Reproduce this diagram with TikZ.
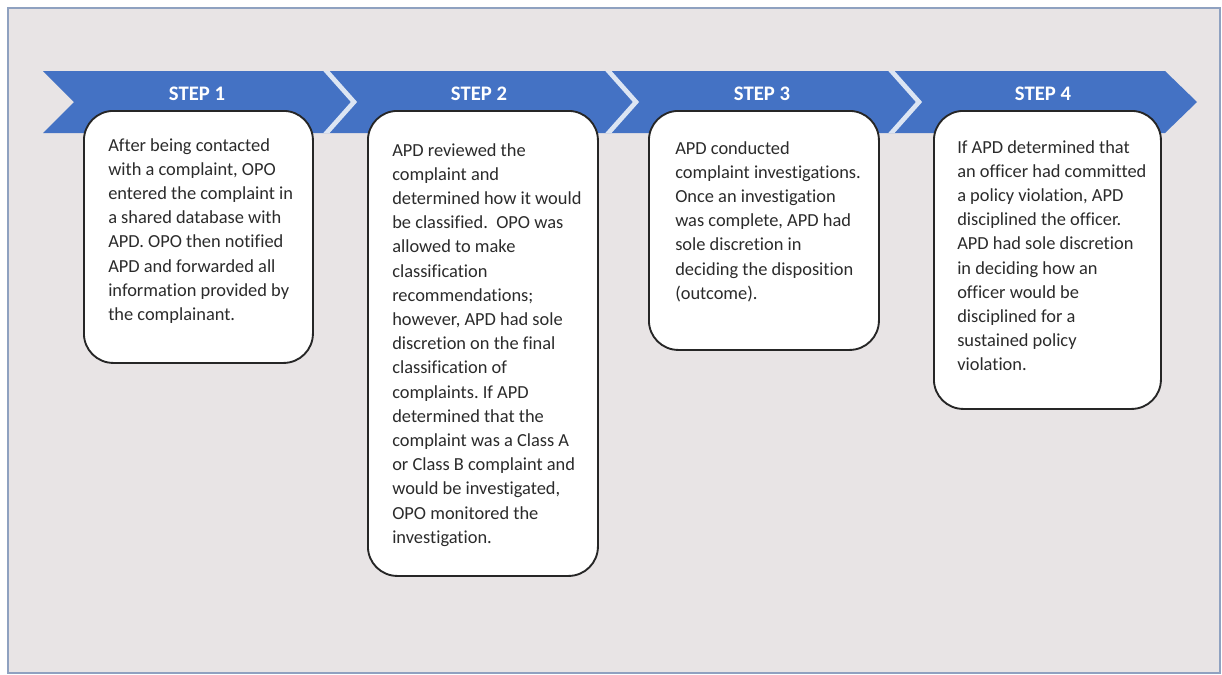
\documentclass[tikz,border=0pt]{standalone}
\usepackage{fontspec}
\setmainfont{Carlito}[Ligatures=NoCommon]
\frenchspacing
\definecolor{bandblue}{HTML}{4472C4}
\definecolor{sepcol}{HTML}{DCE5F3}
\definecolor{bggrey}{HTML}{E8E4E5}
\definecolor{framecol}{HTML}{8FA1C0}
\definecolor{boxline}{HTML}{262626}
\definecolor{textcol}{HTML}{2B2B2B}
\begin{document}
\begin{tikzpicture}[x=0.75pt,y=-0.75pt,
  stepbox/.style={draw=boxline, fill=white, line width=1.4pt, rounded corners=22pt, inner sep=0pt, anchor=north west},
  boxtext/.style={align=left, inner sep=0pt, anchor=north west, text=textcol, font=\fontsize{13.8pt}{18.15pt}\selectfont},
  steplabel/.style={text=white, font=\fontsize{15.5pt}{18pt}\selectfont\bfseries, inner sep=0pt}]
\useasboundingbox (0,0) rectangle (1222,675);
\fill[white] (0,0) rectangle (1222,675);
\draw[framecol, fill=bggrey, line width=1.1pt] (8,8) rectangle (1220,673);
% chevron band
\path[fill=bandblue] (43,71) -- (1165,71) -- (1197,102) -- (1165,133) -- (43,133) -- (74,102) -- cycle;
\begin{scope}
\clip (43,71) -- (1165,71) -- (1197,102) -- (1165,133) -- (43,133) -- (74,102) -- cycle;
\draw[sepcol, line width=3.5pt] (322,66) -- (354,102) -- (322,138);
\draw[sepcol, line width=3.5pt] (604,66) -- (636,102) -- (604,138);
\draw[sepcol, line width=3.5pt] (887,66) -- (919,102) -- (887,138);
\end{scope}
\node[steplabel] (s1) at (197,94) {STEP 1};
\node[steplabel] (s2) at (479,94) {STEP 2};
\node[steplabel] (s3) at (762,94) {STEP 3};
\node[steplabel] (s4) at (1043,94) {STEP 4};
% boxes
\node[stepbox, minimum width=171.75pt, minimum height=189pt] (b1) at (83,110) {};
\node[stepbox, minimum width=172.5pt, minimum height=348.75pt] (b2) at (367,110) {};
\node[stepbox, minimum width=172.5pt, minimum height=179.25pt] (b3) at (648,110) {};
\node[stepbox, minimum width=170.25pt, minimum height=223.5pt] (b4) at (933,110) {};
% texts
\node[boxtext] (t1) at (108,138) {After being contacted\\
with a complaint, OPO\\
entered the complaint in\\
a shared database with\\
APD. OPO then notified\\
APD and forwarded all\\
information provided by\\
the complainant.};
\node[boxtext] (t2) at (392,143) {APD reviewed the\\
complaint and\\
determined how it would\\
be classified.\ \ OPO was\\
allowed to make\\
classification\\
recommendations;\\
however, APD had sole\\
discretion on the final\\
classification of\\
complaints. If APD\\
determined that the\\
complaint was a Class A\\
or Class B complaint and\\
would be investigated,\\
OPO monitored the\\
investigation.};
\node[boxtext] (t3) at (675,141) {APD conducted\\
complaint investigations.\\
Once an investigation\\
was complete, APD had\\
sole discretion in\\
deciding the disposition\\
(outcome).};
\node[boxtext] (t4) at (957,140) {If APD determined that\\
an officer had committed\\
a policy violation, APD\\
disciplined the officer.\\
APD had sole discretion\\
in deciding how an\\
officer would be\\
disciplined for a\\
sustained policy\\
violation.};
\end{tikzpicture}
\end{document}
